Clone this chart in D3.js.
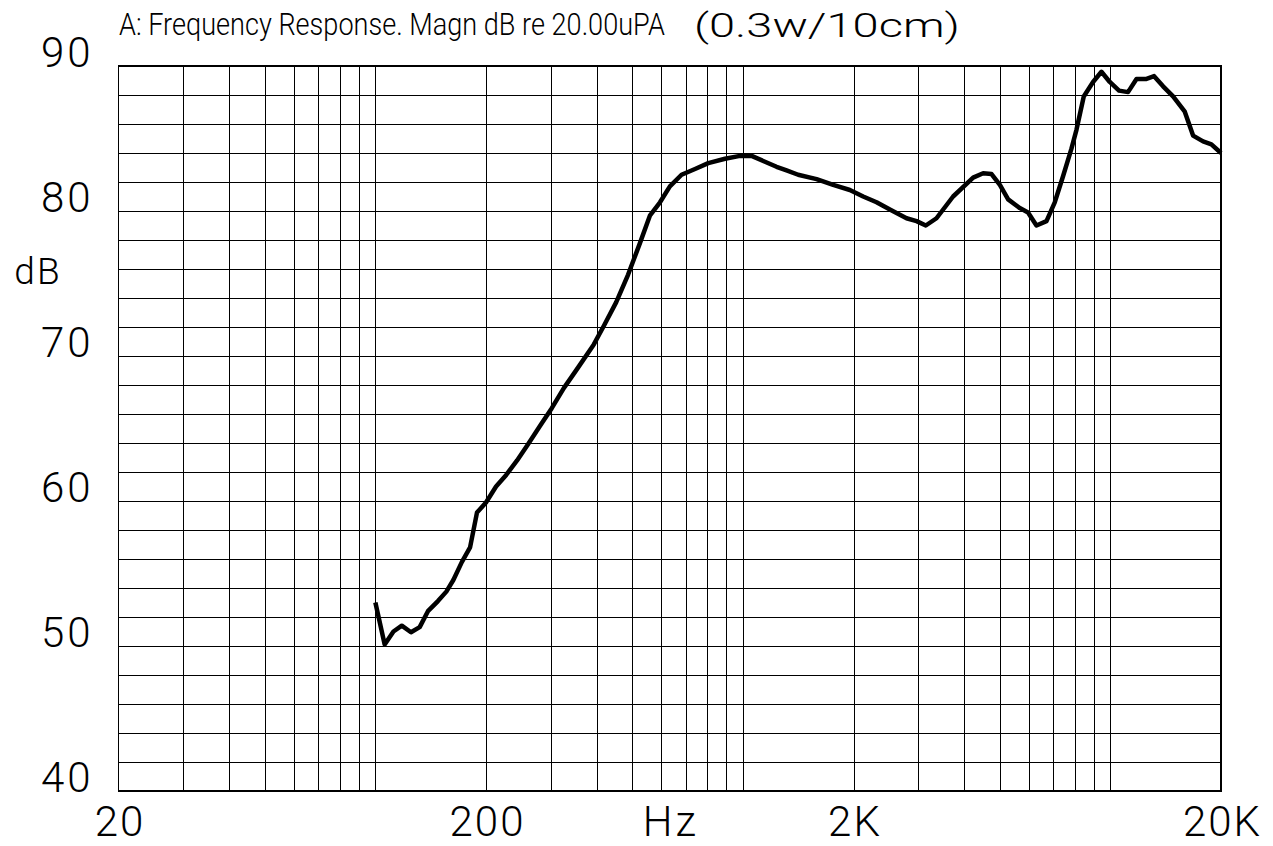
<!DOCTYPE html>
<html>
  <head>
    <title>Frequency Response</title>
    <style>
      body {
        margin: 0;
        padding: 0;
        overflow: hidden;
        background: #fff;
      }
      svg {
        display: block;
      }
      text {
        font-family: Roboto, 'DejaVu Sans', sans-serif;
        font-weight: 300;
        fill: #000;
      }
    </style>
    <script src="https://unpkg.com/d3@7.1.1/dist/d3.min.js"></script>
  </head>
  <body>
    <svg width="1273" height="846"></svg>
    <script>
      // Datos
      const freqs = [100, 106, 112, 118, 125, 132, 139, 148, 156, 163, 172, 181, 189, 200,
        213, 227, 243, 260, 281, 302, 326, 356, 393, 419, 452, 487, 525, 559, 595, 633,
        681, 741, 805, 894, 982, 1056, 1136, 1235, 1315, 1414, 1587, 1761, 1955, 2125,
        2311, 2512, 2788, 2969, 3146, 3364, 3733, 4232, 4505, 4750, 5004, 5270, 5670,
        5970, 6294, 6702, 7058, 7434, 7836, 8086, 8464, 8972, 9456, 9962, 10558, 11170,
        11778, 12486, 13152, 13914, 14812, 15940, 16790, 17874, 18834, 20000];
      const magDb = [53.0, 50.1, 51.0, 51.4, 50.95, 51.3, 52.4, 53.1, 53.75, 54.55, 55.8, 56.8, 59.2, 59.9,
        61.0, 61.8, 62.8, 63.9, 65.2, 66.4, 67.8, 69.2, 70.8, 72.1, 73.7, 75.6, 77.8, 79.7, 80.6, 81.7,
        82.5, 82.9, 83.3, 83.6, 83.8, 83.8, 83.45, 83.05, 82.8, 82.5, 82.2, 81.8, 81.45, 81.0,
        80.6, 80.1, 79.5, 79.3, 79.0, 79.5, 81.0, 82.3, 82.6, 82.55, 81.8, 80.8, 80.2,
        79.9, 79.0, 79.3, 80.6, 82.4, 84.3, 85.6, 87.9, 88.9, 89.6, 88.9, 88.3, 88.2,
        89.1, 89.1, 89.3, 88.6, 87.9, 86.85, 85.2, 84.8, 84.6, 84.0];

      const xGridValues = [30, 40, 50, 60, 70, 80, 90, 100, 200, 300, 400, 500, 600, 700, 800, 900,
        1000, 2000, 3000, 4000, 5000, 6000, 7000, 8000, 9000, 10000];
      const xTickValues = [20, 200, 2000, 20000];
      const xTickLabels = ['20', '200', '2K', '20K'];
      const yTickValues = [40, 50, 60, 70, 80, 90];
      const yGridValues = d3.range(42, 90, 2);

      const titleMain = 'A: Frequency Response. Magn dB re 20.00uPA';
      const titleSub = '(0.3w/10cm)';

      const svg = d3.select('svg');
      const W = 1273, H = 846;
      const margin = { top: 66, right: 52, bottom: 55, left: 118.5 };
      const width = W - margin.left - margin.right;
      const height = H - margin.top - margin.bottom;

      const x = d3.scaleLog().domain([20, 20000]).range([0, width]);
      const y = d3.scaleLinear().domain([40, 90]).range([height, 0]);

      const g = svg.append('g').attr('transform', `translate(${margin.left},${margin.top})`);

      // Rejilla vertical
      g.append('g')
        .attr('transform', `translate(0,${height})`)
        .call(d3.axisBottom(x).tickValues(xGridValues).tickSize(-height).tickFormat(''))
        .call((s) => s.select('.domain').remove())
        .selectAll('line')
        .attr('stroke', '#000')
        .attr('shape-rendering', 'crispEdges');

      // Rejilla horizontal
      g.append('g')
        .call(d3.axisLeft(y).tickValues(yGridValues).tickSize(-width).tickFormat(''))
        .call((s) => s.select('.domain').remove())
        .selectAll('line')
        .attr('stroke', '#000')
        .attr('shape-rendering', 'crispEdges');

      // Marco
      g.append('rect')
        .attr('width', width)
        .attr('height', height)
        .attr('fill', 'none')
        .attr('stroke', '#000')
        .attr('stroke-width', 1.3)
        .attr('shape-rendering', 'crispEdges');

      // Eje Y
      const yAxis = g.append('g')
        .call(d3.axisLeft(y).tickValues(yTickValues).tickSize(0).tickPadding(25).tickFormat(d3.format('d')));
      yAxis.select('.domain').remove();
      yAxis.selectAll('text')
        .attr('dy', 0)
        .attr('font-size', 42)
        .attr('font-family', null)
        .attr('font-weight', 300)
        .attr('letter-spacing', 3);

      // Eje X
      const xAxis = g.append('g')
        .attr('transform', `translate(0,${height})`)
        .call(d3.axisBottom(x).tickValues(xTickValues).tickSize(0)
          .tickFormat((d, i) => xTickLabels[i]));
      xAxis.select('.domain').remove();
      xAxis.selectAll('text')
        .attr('x', 1)
        .attr('y', 45)
        .attr('dy', 0)
        .attr('font-size', 42)
        .attr('font-family', null)
        .attr('font-weight', 300)
        .attr('letter-spacing', 2);

      g.append('text')
        .attr('x', width / 2 + 1)
        .attr('y', height + 45)
        .attr('text-anchor', 'middle')
        .attr('font-size', 42)
        .attr('letter-spacing', 3)
        .text('Hz');

      svg.append('text')
        .attr('x', 38)
        .attr('y', margin.top + y(75))
        .attr('text-anchor', 'middle')
        .attr('font-size', 37)
        .attr('letter-spacing', 2)
        .text('dB');

      // Título: se escala en horizontal para ocupar el mismo ancho
      const fitText = (txt, x0, y0, size, targetW) => {
        const t = svg.append('text')
          .attr('font-size', size)
          .text(txt);
        const w = t.node().getComputedTextLength();
        t.attr('transform', `translate(${x0},${y0}) scale(${targetW / w},1)`);
        return t;
      };
      fitText(titleMain, 119, 35, 31, 546);
      fitText(titleSub, 694, 37, 34, 266);

      // Curva
      const line = d3.line()
        .x((d, i) => x(freqs[i]))
        .y((d) => y(d));

      g.append('path')
        .datum(magDb)
        .attr('fill', 'none')
        .attr('stroke', '#000')
        .attr('stroke-width', 4.5)
        .attr('stroke-linejoin', 'round')
        .attr('d', line);
    </script>
  </body>
</html>
